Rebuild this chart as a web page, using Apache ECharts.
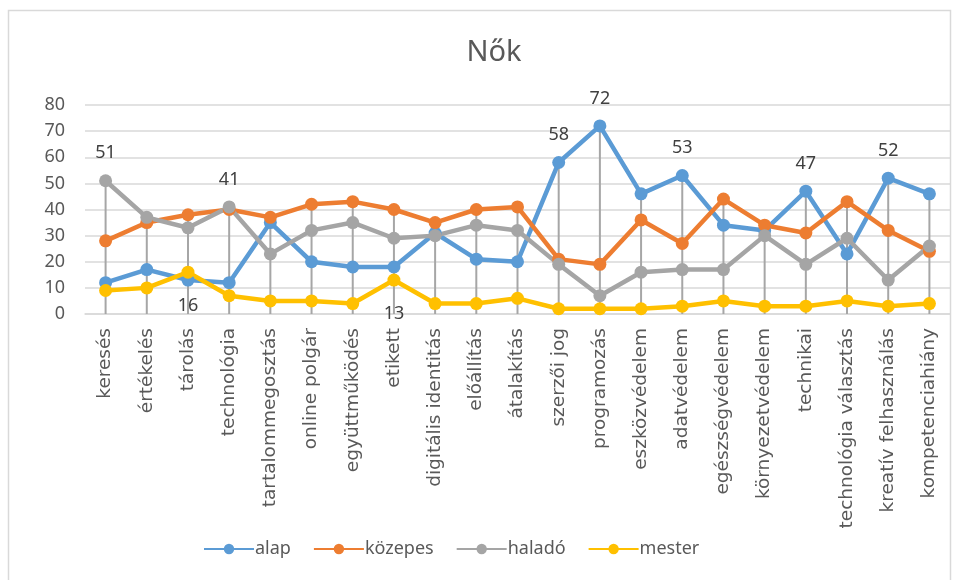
<!DOCTYPE html>
<html>
<head>
<meta charset="utf-8">
<script src="https://cdn.jsdelivr.net/npm/echarts@6/dist/echarts.min.js"></script>
<style>
  html, body { margin: 0; padding: 0; background: #fff; }
  #chart { width: 958px; height: 580px; }
</style>
</head>
<body>
<div id="chart"></div>
<script>
const categories = [
  'keresés', 'értékelés', 'tárolás', 'technológia', 'tartalommegosztás',
  'online polgár', 'együttműködés', 'etikett', 'digitális identitás', 'előállítás',
  'átalakítás', 'szerzői jog', 'programozás', 'eszközvédelem', 'adatvédelem',
  'egészségvédelem', 'környezetvédelem', 'technikai', 'technológia választás',
  'kreatív felhasználás', 'kompetenciahiány'
]
const alap    = [12, 17, 13, 12, 35, 20, 18, 18, 31, 21, 20, 58, 72, 46, 53, 34, 32, 47, 23, 52, 46]
const kozepes = [28, 35, 38, 40, 37, 42, 43, 40, 35, 40, 41, 21, 19, 36, 27, 44, 34, 31, 43, 32, 24]
const halado  = [51, 37, 33, 41, 23, 32, 35, 29, 30, 34, 32, 19, 7, 16, 17, 17, 30, 19, 29, 13, 26]
const mester  = [9, 10, 16, 7, 5, 5, 4, 13, 4, 4, 6, 2, 2, 2, 3, 5, 3, 3, 5, 3, 4]

// which points carry a data label
const alapLabeled = [11, 12, 14, 17, 19]
const haladoLabeled = [0, 3]
const mesterLabeled = [2, 7]

const font = 'Noto Sans'
const textColor = '#595959'

const chart = echarts.init(document.getElementById('chart'))

function withLabels(values, idx, position, distance) {
  return values.map((v, i) => {
    if (!idx.includes(i)) return v
    return {
      value: v,
      label: { show: true, position, distance, color: '#404040', fontSize: 18, fontFamily: font }
    }
  })
}

function lineSeries(name, color, data) {
  return {
    name,
    type: 'line',
    data,
    symbol: 'circle',
    symbolSize: 13,
    lineStyle: { color, width: 4.5 },
    itemStyle: { color },
    z: 3
  }
}

// drop lines run from the highest point in each category down to the axis
const dropTop = categories.map((_, i) => Math.max(alap[i], kozepes[i], halado[i], mester[i]))

chart.setOption({
  animation: false,
  textStyle: { fontFamily: font },
  title: {
    text: 'Nők',
    left: 489,
    top: 33,
    textAlign: 'center',
    textStyle: { color: textColor, fontSize: 29, fontWeight: 'normal', fontFamily: font }
  },
  graphic: [{
    type: 'rect',
    shape: { x: 8.5, y: 10.5, width: 942, height: 580 },
    style: { fill: 'none', stroke: '#d9d9d9', lineWidth: 1.5 },
    silent: true
  }],
  legend: {
    data: ['alap', 'közepes', 'haladó', 'mester'],
    left: 198,
    top: 535,
    itemWidth: 50,
    itemHeight: 13,
    itemGap: 22,
    textStyle: { color: textColor, fontSize: 18, fontFamily: font, padding: [0, 0, 0, -4] }
  },
  grid: { left: 85, right: 8, top: 105, bottom: 266 },
  xAxis: {
    type: 'category',
    data: categories,
    boundaryGap: true,
    axisLine: { lineStyle: { color: '#d9d9d9', width: 1.5 } },
    axisTick: { show: false },
    axisLabel: { rotate: 90, interval: 0, color: textColor, fontSize: 18.5, fontFamily: 'DejaVu Sans', margin: 14 }
  },
  yAxis: {
    type: 'value',
    min: 0,
    max: 80,
    interval: 10,
    axisLine: { show: false },
    axisTick: { show: false },
    splitLine: { lineStyle: { color: '#d9d9d9', width: 1.5 } },
    axisLabel: { color: textColor, fontSize: 18, fontFamily: font, margin: 20 }
  },
  series: [
    {
      name: 'drop',
      type: 'bar',
      data: dropTop,
      barWidth: 2,
      itemStyle: { color: '#a6a6a6' },
      silent: true,
      z: 1
    },
    lineSeries('alap', '#5b9bd5', withLabels(alap, alapLabeled, 'top', 12)),
    lineSeries('közepes', '#ed7d31', kozepes),
    lineSeries('haladó', '#a5a5a5', withLabels(halado, haladoLabeled, 'top', 12)),
    lineSeries('mester', '#ffc000', withLabels(mester, mesterLabeled, 'bottom', 18))
  ]
})
</script>
</body>
</html>
